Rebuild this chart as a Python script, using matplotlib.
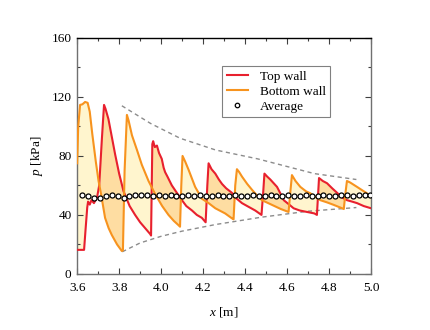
import numpy as np
import matplotlib
matplotlib.use("Agg")
import matplotlib.pyplot as plt

plt.rcParams['font.family'] = ['Liberation Serif', 'DejaVu Serif']
plt.rcParams['mathtext.fontset'] = 'custom'
plt.rcParams['mathtext.it'] = 'Liberation Serif:italic'
plt.rcParams['mathtext.rm'] = 'Liberation Serif'

# ---- data ----
top_x = [3.600, 3.633, 3.640, 3.648, 3.652, 3.660, 3.668, 3.680, 3.695, 3.705, 3.718, 3.728,
         3.735, 3.749, 3.765, 3.781, 3.800, 3.821, 3.850, 3.876, 3.900, 3.924, 3.948, 3.952,
         3.958, 3.962, 3.970, 3.980, 3.990, 4.003, 4.012, 4.019, 4.030, 4.051, 4.070, 4.099,
         4.120, 4.147, 4.170, 4.194, 4.212, 4.220, 4.226, 4.240, 4.258, 4.275, 4.290, 4.310,
         4.337, 4.360, 4.385, 4.410, 4.448, 4.478, 4.486, 4.492, 4.505, 4.520, 4.552, 4.570,
         4.584, 4.610, 4.631, 4.660, 4.695, 4.730, 4.742, 4.748, 4.752, 4.770, 4.790, 4.815,
         4.838, 4.860, 4.885, 4.910, 4.933, 4.965, 5.000]
top_p = [16.3, 16.3, 30.0, 45.0, 49.0, 47.0, 50.0, 48.0, 52.0, 60.0, 92.0, 114.6,
         112.0, 105.0, 93.0, 81.0, 68.0, 56.0, 46.0, 40.0, 35.0, 31.0, 27.0, 26.0,
         88.0, 90.0, 86.0, 87.0, 82.0, 78.0, 72.0, 69.0, 66.0, 60.0, 56.0, 50.0,
         46.0, 43.0, 40.0, 38.0, 35.0, 60.0, 75.0, 71.0, 68.0, 64.0, 61.0, 58.0,
         55.0, 51.0, 48.0, 46.0, 43.0, 40.0, 55.0, 68.0, 66.0, 64.0, 59.0, 54.0,
         50.0, 47.0, 44.5, 43.0, 42.0, 41.0, 40.0, 55.0, 65.0, 63.0, 61.5, 58.0,
         55.0, 52.0, 50.0, 49.0, 48.0, 46.0, 44.5]

bot_x = [3.600, 3.605, 3.614, 3.625, 3.638, 3.650, 3.660, 3.672, 3.689, 3.702, 3.714, 3.733,
         3.750, 3.765, 3.790, 3.813, 3.818, 3.826, 3.837, 3.845, 3.861, 3.885, 3.908, 3.940,
         3.972, 4.005, 4.035, 4.060, 4.083, 4.090, 4.096, 4.102, 4.115, 4.131, 4.162, 4.194,
         4.226, 4.258, 4.305, 4.337, 4.345, 4.353, 4.361, 4.372, 4.385, 4.410, 4.433, 4.458,
         4.480, 4.528, 4.570, 4.607, 4.615, 4.623, 4.640, 4.663, 4.690, 4.710, 4.758, 4.790,
         4.822, 4.862, 4.870, 4.878, 4.885, 4.900, 4.933, 4.960, 4.980, 5.000]
bot_p = [75.0, 100.0, 114.6, 115.0, 116.6, 116.0, 110.0, 95.0, 76.0, 63.0, 54.0, 38.0,
         31.0, 26.4, 20.0, 15.5, 16.0, 70.0, 107.8, 104.0, 94.0, 84.0, 74.0, 63.0,
         54.0, 46.0, 40.0, 36.0, 33.0, 32.0, 60.0, 80.0, 76.0, 70.5, 59.0, 51.0,
         48.0, 44.5, 41.0, 37.7, 37.0, 60.0, 71.0, 69.0, 66.0, 61.0, 57.0, 53.0,
         50.0, 46.8, 44.0, 42.0, 55.0, 67.0, 63.0, 59.0, 56.0, 54.7, 50.0, 48.5,
         46.8, 44.5, 44.0, 55.0, 63.0, 62.0, 59.0, 56.5, 54.7, 52.0]

avg_x = [3.625 + 0.028 * k for k in range(50)]
avg_p = [53.6, 52.9, 51.3, 51.3, 52.9, 53.6, 52.9, 51.7, 52.5, 53.6,
         53.6, 53.6, 52.5, 53.2, 53.0, 53.2, 53.0, 52.8, 53.2, 53.1,
         53.2, 53.0, 53.1, 53.2, 53.0, 53.1, 53.2, 53.0, 53.1, 53.2,
         53.0, 53.1, 53.2, 53.0, 53.1, 53.2, 53.0, 53.1, 53.2, 53.0,
         53.1, 53.2, 53.0, 53.1, 53.2, 53.3, 52.6, 53.8, 53.2, 53.5]

upper_x = [3.813, 3.950, 4.090, 4.260, 4.460, 4.730, 4.930]
upper_p = [114.0, 102.0, 92.0, 84.0, 78.0, 68.0, 64.0]
lower_x = [3.815, 3.900, 4.000, 4.100, 4.260, 4.480, 4.700, 4.930]
lower_p = [15.0, 21.0, 25.5, 29.0, 33.5, 38.5, 42.5, 45.0]

RED = '#E8202E'
ORANGE = '#F7931E'
LIGHT = '#FFF5CE'
DARK = '#FEDDA2'
FS = 9.5

fig = plt.figure(figsize=(4.31, 3.30), dpi=100)
ax = fig.add_axes([0.179, 0.170, 0.682, 0.715])

# fill between walls
grid = np.linspace(3.6, 5.0, 4001)
t_g = np.interp(grid, top_x, top_p)
b_g = np.interp(grid, bot_x, bot_p)
ax.fill_between(grid, t_g, b_g, where=b_g >= t_g, color=LIGHT, lw=0, interpolate=True)
ax.fill_between(grid, t_g, b_g, where=t_g > b_g, color=DARK, lw=0, interpolate=True)

ax.plot(upper_x, upper_p, ls=(0, (3, 2.5)), color='#8c8c8c', lw=1.0)
ax.plot(lower_x, lower_p, ls=(0, (3, 2.5)), color='#8c8c8c', lw=1.0)

ax.plot(top_x, top_p, color=RED, lw=1.5, label='Top wall', zorder=3)
ax.plot(bot_x, bot_p, color=ORANGE, lw=1.5, label='Bottom wall', zorder=3)
ax.plot(avg_x, avg_p, ls='none', marker='o', ms=3.6, mfc='white', mec='black',
        mew=0.9, label='Average', zorder=4)

ax.set_xlim(3.6, 5.0)
ax.set_ylim(0, 160)
ax.set_xticks([3.6, 3.8, 4.0, 4.2, 4.4, 4.6, 4.8, 5.0])
ax.set_xticklabels(['3.6', '3.8', '4.0', '4.2', '4.4', '4.6', '4.8', '5.0'])
ax.set_xticks(np.arange(3.7, 5.0, 0.2), minor=True)
ax.set_yticks([0, 40, 80, 120, 160])
ax.set_yticks([20, 60, 100, 140], minor=True)
ax.tick_params(which='both', direction='in', top=True, right=True, labelsize=FS,
               color='#404040')
ax.tick_params(axis='x', which='major', pad=6)
ax.tick_params(axis='y', which='major', pad=4)
ax.tick_params(which='major', length=4, width=0.8)
ax.tick_params(which='minor', length=2.5, width=0.8)

for s in ['left', 'bottom', 'right']:
    ax.spines[s].set_color('#707070')
    ax.spines[s].set_linewidth(1.0)
ax.spines['top'].set_color('black')
ax.spines['top'].set_linewidth(1.0)

ax.set_xlabel('$x$ [m]', fontsize=FS, labelpad=8)
ax.set_ylabel('$p$ [kPa]', fontsize=FS, labelpad=5)

leg = ax.legend(loc='upper left', bbox_to_anchor=(0.493, 0.881), fontsize=FS,
                fancybox=False, edgecolor='#808080', framealpha=1,
                handlelength=1.6, handletextpad=0.9, borderpad=0.35,
                labelspacing=0.2, borderaxespad=0, markerscale=0.9)
leg.get_frame().set_linewidth(0.8)

fig.savefig('out.png', dpi=100)
